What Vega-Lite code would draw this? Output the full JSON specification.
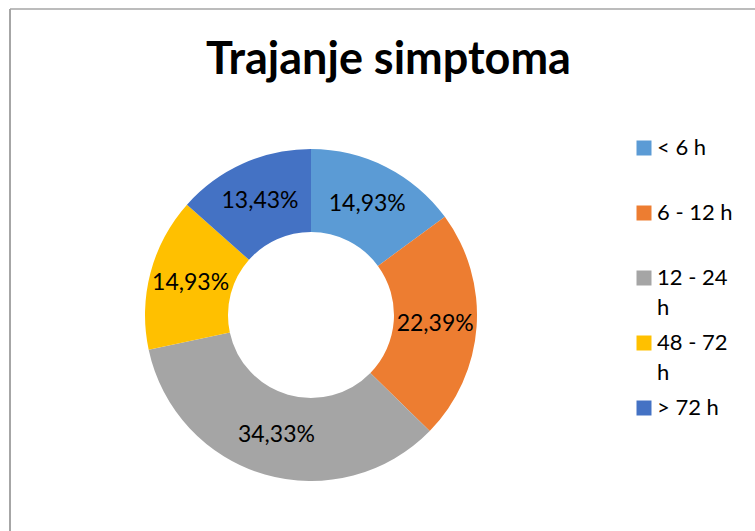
{
  "$schema": "https://vega.github.io/schema/vega-lite/v6.json",
  "width": 745,
  "height": 522,
  "autosize": {"type": "none"},
  "padding": {"left": 10, "top": 9, "right": 0, "bottom": 0},
  "background": "white",
  "config": {
    "view": {"stroke": null},
    "font": "Lato",
    "style": {"guide-label": {"lineHeight": 30, "dy": -10}}
  },
  "title": {
    "text": "Trajanje simptoma",
    "font": "Lato",
    "fontSize": 45,
    "fontWeight": "bold",
    "color": "#000000",
    "anchor": "middle",
    "orient": "top",
    "offset": -66,
    "baseline": "alphabetic",
    "dx": 6,
    "dy": 45
  },
  "data": {
    "values": [
      {"idx": 1, "cat": "< 6 h", "pct": 14.93, "label": "14,93%"},
      {"idx": 2, "cat": "6 - 12 h", "pct": 22.39, "label": "22,39%"},
      {"idx": 3, "cat": "12 - 24 h", "pct": 34.33, "label": "34,33%"},
      {"idx": 4, "cat": "48 - 72 h", "pct": 14.93, "label": "14,93%"},
      {"idx": 5, "cat": "> 72 h", "pct": 13.43, "label": "13,43%"}
    ]
  },
  "layer": [
    {
      "data": {"values": [{}]},
      "mark": {"type": "rule", "color": "#a6a6a6", "strokeWidth": 1.5},
      "encoding": {"y": {"value": 0}}
    },
    {
      "data": {"values": [{}]},
      "mark": {"type": "rule", "color": "#a6a6a6", "strokeWidth": 2},
      "encoding": {"x": {"value": 0}}
    },
    {
      "mark": {"type": "arc", "x": 301, "y": 306, "outerRadius": 166, "innerRadius": 83},
      "encoding": {
        "theta": {"field": "pct", "type": "quantitative", "stack": true},
        "order": {"field": "idx", "type": "quantitative"},
        "color": {
          "field": "cat",
          "type": "nominal",
          "scale": {
            "domain": ["< 6 h", "6 - 12 h", "12 - 24 h", "48 - 72 h", "> 72 h"],
            "range": ["#5B9BD5", "#ED7D31", "#A5A5A5", "#FFC000", "#4472C4"]
          },
          "legend": {
            "orient": "none",
            "legendX": 623,
            "legendY": 128,
            "title": null,
            "symbolType": "square",
            "symbolSize": 225,
            "symbolStrokeWidth": 0,
            "labelFont": "Lato",
            "labelFontSize": 22,
            "labelColor": "#000000",
            "labelLimit": 200,
            "gridAlign": "all",
            "rowPadding": 13,
            "labelOffset": 2,
            "labelBaseline": "top",
            "labelExpr": "datum.label == '12 - 24 h' ? ['12 - 24', 'h'] : datum.label == '48 - 72 h' ? ['48 - 72', 'h'] : datum.label"
          }
        }
      }
    },
    {
      "mark": {"type": "text", "x": 301, "y": 306, "radius": 124.5, "font": "Lato", "fontSize": 23, "color": "#000000"},
      "encoding": {
        "theta": {"field": "pct", "type": "quantitative", "stack": true},
        "order": {"field": "idx", "type": "quantitative"},
        "text": {"field": "label"}
      }
    }
  ]
}
